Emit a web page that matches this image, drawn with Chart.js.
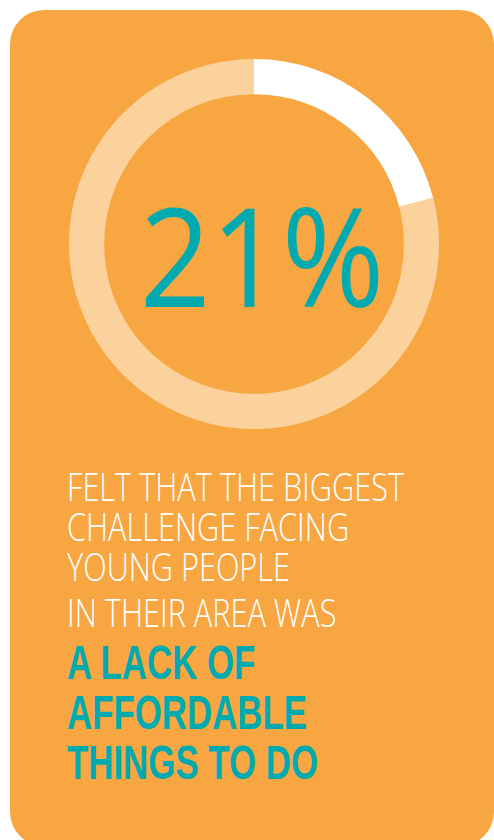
<!DOCTYPE html>
<html>
<head>
<meta charset="utf-8">
<script src="https://cdn.jsdelivr.net/npm/chart.js@4"></script>
<style>
  html, body { margin: 0; padding: 0; background: #fff; }
  body { width: 494px; height: 840px; overflow: hidden; position: relative; }
  .card {
    position: absolute; left: 10px; top: 10px; width: 484px; height: 836px;
    background: #F8A642; border-radius: 34px; overflow: hidden;
  }
  .ring { position: absolute; left: 59px; top: 49px; width: 370px; height: 370px; }
  .big {
    position: absolute; left: 8px; top: 174px; width: 488px; text-align: center;
    font-family: "Open Sans", sans-serif; font-weight: 400; font-size: 138px;
    line-height: 138px; color: #00AAAE; transform: scaleX(0.9); transform-origin: 244px 0;
    white-space: nowrap;
  }
  .line {
    position: absolute; left: 57px; white-space: nowrap; transform-origin: 0 0;
  }
  .w { color: #fff; font-family: "Open Sans", sans-serif; font-weight: 300;
       font-size: 39px; line-height: 39px; }
  .t { color: #00AAAE; font-family: "Liberation Sans", Arial, sans-serif; font-weight: bold;
       font-size: 49px; line-height: 49px; }
</style>
</head>
<body>
<div class="card">
  <div class="ring"><canvas id="ring"></canvas></div>
  <div class="big" id="big">21%</div>
  <div class="line w" id="w1" style="top:456px">FELT THAT THE BIGGEST</div>
  <div class="line w" style="top:496px">CHALLENGE FACING</div>
  <div class="line w" style="top:536px">YOUNG PEOPLE</div>
  <div class="line w" style="top:582px">IN THEIR AREA WAS</div>
  <div class="line t" style="top:628px">A LACK OF</div>
  <div class="line t" id="t2" style="top:678px">AFFORDABLE</div>
  <div class="line t" style="top:728px">THINGS TO DO</div>
</div>
<script>
// share of respondents naming lack of affordable things to do
const labels = ["A lack of affordable things to do", "Other challenges"];
const shares = [21, 79];
const ringColors = ["#FFFFFF", "#FBD29C"];

// squeeze the text lines to the condensed widths of the original
function squeeze(cls, refId, target) {
    const w = document.getElementById(refId).getBoundingClientRect().width;
    const s = target / w;
    document.querySelectorAll('.' + cls).forEach(el => {
        el.style.transform = 'scaleX(' + s + ')';
    });
}
squeeze('w', 'w1', 337);
squeeze('t', 't2', 240);

const ring = document.getElementById("ring");

new Chart(ring, {
    type: 'doughnut',
    data: {
        labels: labels,
        datasets: [{
            data: shares,
            backgroundColor: ringColors,
            borderWidth: 0,
            hoverOffset: 0
        }]
    },
    options: {
        responsive: true,
        maintainAspectRatio: false,
        animation: false,
        cutout: '81%',
        layout: { padding: 0 },
        plugins: {
            legend: { display: false },
            tooltip: { enabled: false }
        }
    }
});
</script>
</body>
</html>
